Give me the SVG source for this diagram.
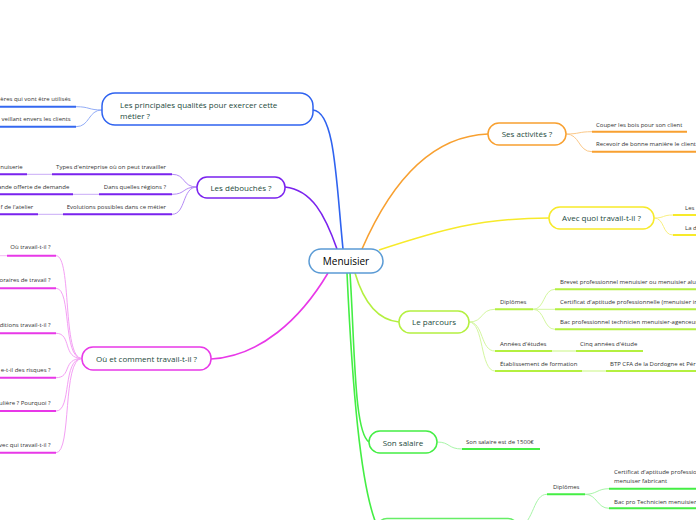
<svg xmlns="http://www.w3.org/2000/svg" width="696" height="520" viewBox="0 0 696 520">
<style>
text{font-family:"Open Sans","Noto Sans",sans-serif}
.main{font-size:8px;fill:#1d4a3c}
.leaf{font-size:6px;fill:#333}
.node{fill:#fff;stroke-width:1.5}
.br{fill:none;stroke-width:1.6}
.lc{fill:none;stroke-width:1}
.ul{fill:none;stroke-width:2}
</style>
<rect width="696" height="520" fill="#fff"/>
<g id="connectors">
  <!-- main branches -->
  <path class="br" stroke="#2f63f0" d="M343,249 C 336,180 335,112 313,110"/>
  <path class="br" stroke="#7a22ee" d="M337,249 C 325,215 312,190 285,187"/>
  <path class="br" stroke="#e838e8" d="M328,273 C 300,320 260,356 211,359"/>
  <path class="br" stroke="#f8a030" d="M362,249 C 392,180 432,136 488,134"/>
  <path class="br" stroke="#f7ea2a" d="M379,250 C 440,230 480,218 549,218"/>
  <path class="br" stroke="#b4f040" d="M355,273 C 363,300 377,320 399,322"/>
  <path class="br" stroke="#44ee44" d="M350,273 C 355,350 354,432 369,442"/>
  <path class="br" stroke="#44ee44" d="M347,273 C 352,380 360,490 378,528"/>
  <!-- blue leaves -->
  <path class="lc" stroke="#93adf7" d="M102,110 C 88,110 90,106.7 76,106.7"/>
  <path class="lc" stroke="#93adf7" d="M102,110 C 88,110 90,126.7 76,126.7"/>
  <path class="ul" stroke="#3468f0" d="M0,106.7 H76"/>
  <path class="ul" stroke="#3468f0" d="M0,126.7 H76"/>
  <!-- purple leaves -->
  <path class="lc" stroke="#b48af5" d="M197,187 C 182,187 186,174.3 172,174.3"/>
  <path class="lc" stroke="#b48af5" d="M197,187 C 182,187 186,194.3 172,194.3"/>
  <path class="lc" stroke="#b48af5" d="M197,187 C 182,187 186,214.3 172,214.3"/>
  <path class="ul" stroke="#7a22ee" d="M52,174.3 H172 M99,194.3 H172 M63,214.3 H172 M0,174.3 H27 M0,194.3 H73 M0,214.3 H38"/>
  <path class="lc" stroke="#c8aaf7" d="M27,174.3 H52 M73,194.3 H99 M38,214.3 H63"/>
  <!-- magenta leaves -->
  <path class="lc" stroke="#f4a0f4" d="M82,358.5 C 62,358.5 72,255.7 56,255.7"/>
  <path class="lc" stroke="#f4a0f4" d="M82,358.5 C 62,358.5 72,288.3 56,288.3"/>
  <path class="lc" stroke="#f4a0f4" d="M82,358.5 C 62,358.5 72,333.3 56,333.3"/>
  <path class="lc" stroke="#f4a0f4" d="M82,358.5 C 62,358.5 72,377.7 56,377.7"/>
  <path class="lc" stroke="#f4a0f4" d="M82,358.5 C 62,358.5 72,411 56,411"/>
  <path class="lc" stroke="#f4a0f4" d="M82,358.5 C 62,358.5 72,452.7 56,452.7"/>
  <path class="ul" stroke="#e838e8" d="M7,255.7 H56 M0,288.3 H56 M0,333.3 H56 M0,377.7 H56 M0,411 H56 M0,452.7 H56"/>
  <path class="lc" stroke="#f4b8f4" d="M0,255.7 H7"/>
  <!-- orange leaves -->
  <path class="lc" stroke="#fbc888" d="M566,134 C 580,134 578,131.7 592,131.7"/>
  <path class="lc" stroke="#fbc888" d="M566,134 C 580,134 578,151.7 592,151.7"/>
  <path class="ul" stroke="#f8a030" d="M592,131.7 H687 M592,151.7 H696"/>
  <!-- yellow leaves -->
  <path class="lc" stroke="#f9f080" d="M654,218 C 665,218 662,215 673,215"/>
  <path class="lc" stroke="#f9f080" d="M654,218 C 665,218 662,235 673,235"/>
  <path class="ul" stroke="#f7ea2a" d="M673,215 H696 M673,235 H696"/>
  <!-- lime leaves -->
  <path class="lc" stroke="#d4f7a0" d="M469,322 C 484,322 480,309.3 495,309.3"/>
  <path class="lc" stroke="#d4f7a0" d="M469,322 C 484,322 480,351 495,351"/>
  <path class="lc" stroke="#d4f7a0" d="M469,322 C 484,322 480,371 495,371"/>
  <path class="lc" stroke="#d4f7a0" d="M533,309.3 C 545,309.3 543,289.3 555,289.3"/>
  <path class="lc" stroke="#d4f7a0" d="M533,309.3 H555"/>
  <path class="lc" stroke="#d4f7a0" d="M533,309.3 C 545,309.3 543,329.3 555,329.3"/>
  <path class="ul" stroke="#b4f040" d="M495,309.3 H533 M555,289.3 H696 M555,309.3 H696 M555,329.3 H696 M495,351 H552 M576,351 H643 M495,371 H582 M606,371 H696"/>
  <path class="ul" stroke="#e4fac0" d="M552,351 H576 M582,371 H606"/>
  <!-- green leaves -->
  <path class="lc" stroke="#a8f5a8" d="M437,442 C 450,442 448,449 462,449"/>
  <path class="ul" stroke="#44ee44" d="M462,449 H540"/>
  <path class="lc" stroke="#a8f5a8" d="M518,530 C 535,520 533,494.3 547,494.3"/>
  <path class="lc" stroke="#a8f5a8" d="M585,494.3 C 597,494.3 597,488.7 609,488.7"/>
  <path class="lc" stroke="#a8f5a8" d="M585,494.3 C 597,494.3 597,508.3 609,508.3"/>
  <path class="ul" stroke="#44ee44" d="M547,494.3 H585 M609,488.7 H696 M609,508.3 H696"/>
</g>
<g id="center">
  <rect class="node" stroke="#5b9bd5" x="309" y="249" width="74" height="24" rx="12"/>
  <text x="346" y="264.5" text-anchor="middle" font-size="10" fill="#000">Menuisier</text>
</g>
<g id="qualites">
  <rect class="node" stroke="#2f63f0" x="102" y="93" width="211" height="32" rx="13"/>
  <text class="main" x="120" y="107.5">Les principales qualités pour exercer cette</text>
  <text class="main" x="120" y="119">métier ?</text>
  <text class="leaf" x="70.7" y="101" text-anchor="end">ères qui vont être utilisés</text>
  <text class="leaf" x="70.7" y="121" text-anchor="end">veillant envers les clients</text>
</g>
<g id="debouches">
  <rect class="node" stroke="#7a22ee" x="197" y="177" width="88" height="21" rx="10"/>
  <text class="main" x="241" y="190.5" text-anchor="middle">Les débouchés ?</text>
  <text class="leaf" x="166" y="168.5" text-anchor="end">Types d'entreprise où on peut travailler</text>
  <text class="leaf" x="22.7" y="168.5" text-anchor="end">nuiserie</text>
  <text class="leaf" x="166" y="188.5" text-anchor="end">Dans quelles régions ?</text>
  <text class="leaf" x="69.3" y="188.5" text-anchor="end">ande offerte de demande</text>
  <text class="leaf" x="166" y="208.5" text-anchor="end">Evolutions possibles dans ce métier</text>
  <text class="leaf" x="33.3" y="208.5" text-anchor="end">f de l'atelier</text>
</g>
<g id="ou-comment">
  <rect class="node" stroke="#e838e8" x="82" y="347" width="129" height="23" rx="11"/>
  <text class="main" x="146.5" y="361.5" text-anchor="middle">Où et comment travail-t-il ?</text>
  <text class="leaf" x="50.7" y="249" text-anchor="end">Où travail-t-il ?</text>
  <text class="leaf" x="50.7" y="282" text-anchor="end">oraires de travail ?</text>
  <text class="leaf" x="50.7" y="327" text-anchor="end">ditions travail-t-il ?</text>
  <text class="leaf" x="50.7" y="371.5" text-anchor="end">e-t-il des risques ?</text>
  <text class="leaf" x="50.7" y="404.5" text-anchor="end">ulière ? Pourquoi ?</text>
  <text class="leaf" x="50.7" y="446.5" text-anchor="end">vec qui travail-t-il ?</text>
</g>
<g id="activites">
  <rect class="node" stroke="#f8a030" x="488" y="123" width="78" height="22" rx="11"/>
  <text class="main" x="527" y="137" text-anchor="middle">Ses activités ?</text>
  <text class="leaf" x="596" y="127">Couper les bois pour son client</text>
  <text class="leaf" x="596" y="146">Recevoir de bonne manière le client</text>
</g>
<g id="avec-quoi">
  <rect class="node" stroke="#f7ea2a" x="549" y="207" width="105" height="22" rx="11"/>
  <text class="main" x="601.5" y="221" text-anchor="middle">Avec quoi travail-t-il ?</text>
  <text class="leaf" x="685" y="210">Les</text>
  <text class="leaf" x="685" y="229.5">La d</text>
</g>
<g id="parcours">
  <rect class="node" stroke="#b4f040" x="399" y="311" width="70" height="22" rx="11"/>
  <text class="main" x="434" y="325" text-anchor="middle">Le parcours</text>
  <text class="leaf" x="500" y="304">Diplômes</text>
  <text class="leaf" x="560" y="284">Brevet professionnel menuisier ou menuisier alu</text>
  <text class="leaf" x="560" y="304">Certificat d'aptitude professionnelle (menuisier in</text>
  <text class="leaf" x="560" y="324">Bac professionnel technicien menuisier-agenceur</text>
  <text class="leaf" x="500" y="346">Années d'études</text>
  <text class="leaf" x="580" y="346">Cinq années d'étude</text>
  <text class="leaf" x="500" y="366">Établissement de formation</text>
  <text class="leaf" x="610" y="366">BTP CFA de la Dordogne et Pér</text>
</g>
<g id="salaire">
  <rect class="node" stroke="#44ee44" x="369" y="431" width="68" height="22" rx="11"/>
  <text class="main" x="403" y="445.5" text-anchor="middle">Son salaire</text>
  <text class="leaf" x="466" y="444">Son salaire est de 1500€</text>
</g>
<g id="formation">
  <rect class="node" stroke="#66ee66" stroke-width="2" x="377" y="518.5" width="141" height="24" rx="10"/>
  <text class="leaf" x="553" y="489">Diplômes</text>
  <text class="leaf" x="614" y="474">Certificat d'aptitude professionnelle</text>
  <text class="leaf" x="614" y="483">menuiser fabricant</text>
  <text class="leaf" x="614" y="503.5">Bac pro Technicien menuisier</text>
</g>
</svg>
